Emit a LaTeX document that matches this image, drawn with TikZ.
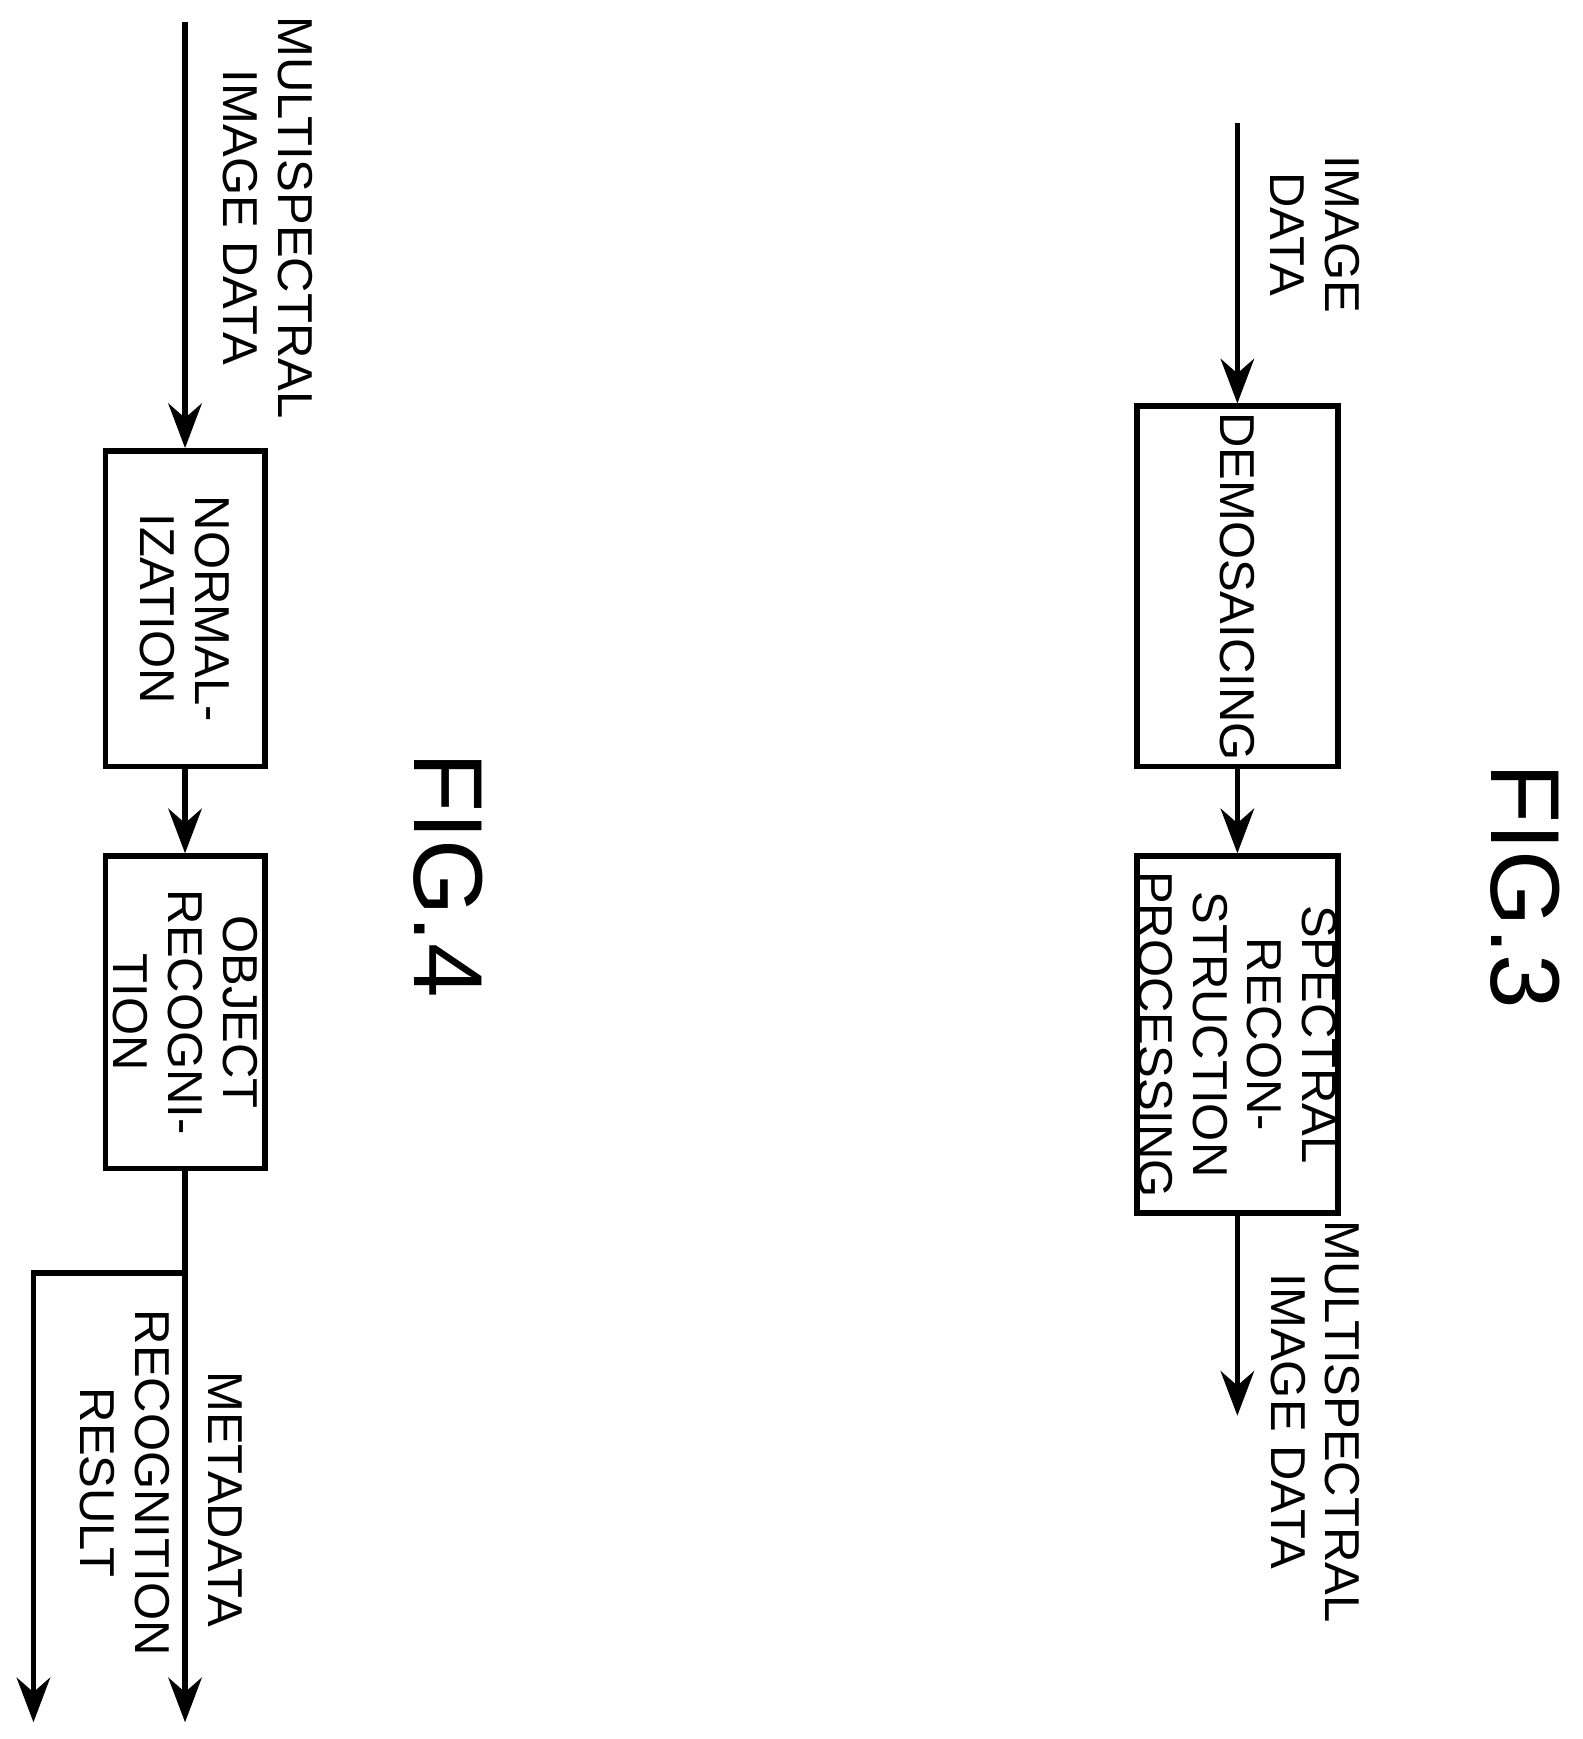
\documentclass[tikz,border=0pt]{standalone}
\usepackage{fontspec}
\setmainfont{Liberation Sans}
\usetikzlibrary{arrows.meta}
\tikzset{
  blk/.style={draw, line width=1.4pt, minimum width=3.2cm, inner sep=0pt, rotate=-90, align=center, font=\fontsize{12.5}{14}\selectfont},
  lbl/.style={rotate=-90, align=center, font=\fontsize{12.5}{14}\selectfont},
  fig/.style={rotate=-90, font=\fontsize{25}{25}\selectfont},
  flow/.style={line width=1.4pt, -{Stealth[length=4mm, width=3mm]}}
}
\begin{document}
\begin{tikzpicture}[x=0.01cm, y=-0.01cm]
    \useasboundingbox (0,0) rectangle (1420,1560);

    % FIG.3
    \node[blk, minimum width=3.23cm, minimum height=1.8cm] (demo) at (1110,526) {DEMOSAICING};
    \node[blk, minimum height=1.8cm] (spec) at (1110,928) {SPECTRAL\\RECON-\\STRUCTION\\PROCESSING};
    \coordinate (in3) at (1110,110);
    \coordinate (out3) at (1110,1270);
    \draw[flow] (in3) -- (demo.west);
    \draw[flow] (demo.east) -- (spec.west);
    \draw[flow] (spec.east) -- (out3);
    \node[lbl] (imgdata) at (1180,210) {IMAGE\\DATA};
    \node[lbl] (msdata3) at (1180,1275) {MULTISPECTRAL\\IMAGE DATA};
    \node[fig] (fig3) at (1368,795) {FIG.3};

    % FIG.4
    \node[blk, minimum width=2.83cm, minimum height=1.43cm] (norm) at (166,546) {NORMAL-\\IZATION};
    \node[blk, minimum width=2.8cm, minimum height=1.43cm] (obj) at (166,908) {OBJECT\\RECOGNI-\\TION};
    \coordinate (in4) at (166,20);
    \coordinate (split) at (166,1142);
    \coordinate (meta) at (166,1545);
    \coordinate (bend) at (30,1142);
    \coordinate (res) at (30,1545);
    \draw[flow] (in4) -- (norm.west);
    \draw[flow] (norm.east) -- (obj.west);
    \draw[flow] (obj.east) -- (meta);
    \draw[flow] (split) -- (bend) -- (res);
    \node[lbl] (msdata4) at (240,195) {MULTISPECTRAL\\IMAGE DATA};
    \node[lbl] (metadata) at (202,1345) {METADATA};
    \node[lbl] (recres) at (112,1330) {RECOGNITION\\RESULT};
    \node[fig] (fig4) at (402,785) {FIG.4};
\end{tikzpicture}
\end{document}
